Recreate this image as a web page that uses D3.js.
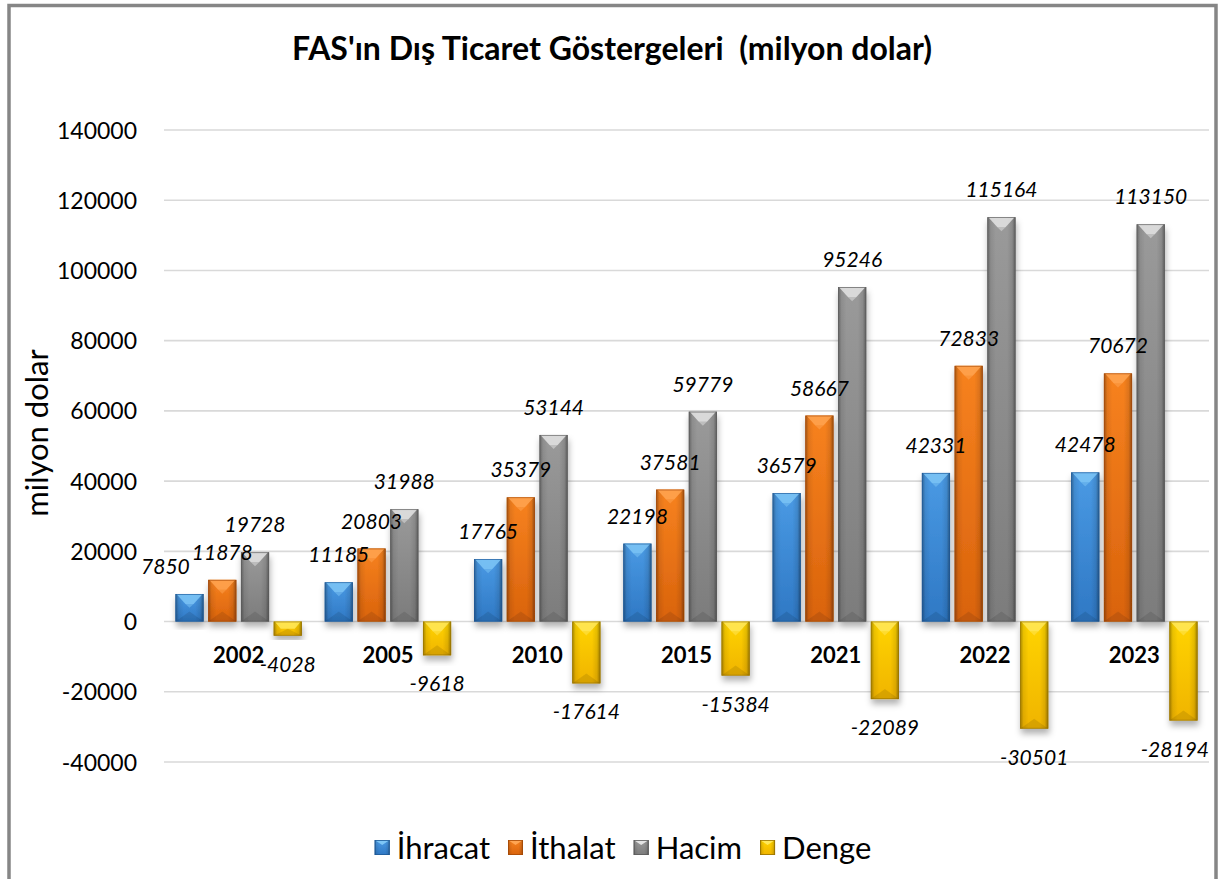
<!DOCTYPE html>
<html><head><meta charset="utf-8">
<script src="https://cdn.jsdelivr.net/npm/d3@7"></script>
<style>body{margin:0;background:#fff} svg{display:block}</style>
</head><body>
<svg id="c" width="1219" height="879"></svg>
<script>
const categories = ["2002","2005","2010","2015","2021","2022","2023"];
const seriesNames = ["İhracat","İthalat","Hacim","Denge"];
const ihracat = [7850,11185,17765,22198,36579,42331,42478];
const ithalat = [11878,20803,35379,37581,58667,72833,70672];
const hacim = [19728,31988,53144,59779,95246,115164,113150];
const denge = [-4028,-9618,-17614,-15384,-22089,-30501,-28194];
const yTicks = [-40000,-20000,0,20000,40000,60000,80000,100000,120000,140000];
const titleText = "FAS'ın Dış Ticaret Göstergeleri  (milyon dolar)";
const yTitleText = "milyon dolar";

const series = [ihracat, ithalat, hacim, denge];
const palette = [
  {top:"#7ec6f6", base1:"#4a9ae4", base2:"#2f78c4", edge:"#1e5a98"},
  {top:"#ffa552", base1:"#f7821f", base2:"#d9630c", edge:"#a84a06"},
  {top:"#e4e4e4", base1:"#9a9a9a", base2:"#7c7c7c", edge:"#5c5c5c"},
  {top:"#ffe85a", base1:"#ffd400", base2:"#f0b400", edge:"#9a7400"}
];
const FONT = "Lato, 'Open Sans', sans-serif";

const svg = d3.select("#c");
const plot = {left:164, right:1209, top:130, bottom:762};

const y = d3.scaleLinear().domain([-40000,140000]).range([plot.bottom, plot.top]);
const x0 = d3.scaleBand().domain(categories).range([plot.left, plot.right]).paddingInner(0.1226).paddingOuter(0.0613);
const x1 = d3.scaleBand().domain(seriesNames).range([0, x0.bandwidth()]).paddingInner(0.14).paddingOuter(0.07);

const defs = svg.append("defs");
const f = defs.append("filter").attr("id","sh").attr("x","-30%").attr("y","-30%").attr("width","160%").attr("height","160%");
f.append("feDropShadow").attr("dx",1).attr("dy",5).attr("stdDeviation",3).attr("flood-color","#000").attr("flood-opacity",0.3);

palette.forEach((p,i)=>{
  const g = defs.append("linearGradient").attr("id","v"+i).attr("x1",0).attr("y1",0).attr("x2",0).attr("y2",1);
  g.append("stop").attr("offset","0%").attr("stop-color",p.base1);
  g.append("stop").attr("offset","100%").attr("stop-color",p.base2);
});
const hg = defs.append("linearGradient").attr("id","hedge").attr("x1",0).attr("y1",0).attr("x2",1).attr("y2",0);
[[0,0.35],[0.12,0.08],[0.3,0],[0.7,0],[0.88,0.1],[1,0.4]].forEach(([o,a])=>hg.append("stop").attr("offset",o).attr("stop-color","#000").attr("stop-opacity",a));

// frame
svg.append("rect").attr("x",9).attr("y",5.5).attr("width",1207).attr("height",920)
  .attr("fill","#fff").attr("stroke","#868686").attr("stroke-width",3.5);

// gridlines
svg.append("g").selectAll("line").data(yTicks).join("line")
  .attr("x1",plot.left).attr("x2",plot.right)
  .attr("y1",d=>y(d)).attr("y2",d=>y(d))
  .attr("stroke","#d9d9d9").attr("stroke-width",1.6);

// y axis labels
const yAxis = d3.axisLeft(y).tickValues(yTicks).tickSize(0).tickPadding(0).tickFormat(d=>String(d));
const ya = svg.append("g").attr("transform",`translate(${plot.left-27},0)`).call(yAxis);
ya.select(".domain").remove();
ya.selectAll("text").attr("font-family",FONT).attr("font-size",23).attr("fill","#000").attr("dy","0.35em");

function bevelBar(g, xx, ww, v, i){
  const y0 = y(0), yv = y(v);
  const top = Math.min(y0,yv), h = Math.abs(y0-yv);
  const bg = g.append("g").attr("filter","url(#sh)");
  bg.append("rect").attr("x",xx).attr("y",top).attr("width",ww).attr("height",h).attr("fill",`url(#v${i})`);
  bg.append("rect").attr("x",xx).attr("y",top).attr("width",ww).attr("height",h).attr("fill","url(#hedge)");
  const d = Math.min(10, h/2, ww/2);
  bg.append("polygon").attr("points",`${xx+1},${top} ${xx+ww-1},${top} ${xx+ww-d},${top+d} ${xx+d},${top+d}`)
    .attr("fill",palette[i].top).attr("opacity",0.85);
  bg.append("polygon").attr("points",`${xx+d},${top+d} ${xx+ww-d},${top+d} ${xx+ww/2},${top+d+Math.min(4,h/2-d>0?h/2-d:0)}`)
    .attr("fill",palette[i].top).attr("opacity",0.5);
  bg.append("polygon").attr("points",`${xx},${top+h} ${xx+ww},${top+h} ${xx+ww/2},${top+h-d}`)
    .attr("fill","#000").attr("opacity",0.1);
  bg.append("rect").attr("x",xx+0.4).attr("y",top+0.4).attr("width",ww-0.8).attr("height",Math.max(0,h-0.8))
    .attr("fill","none").attr("stroke",palette[i].edge).attr("stroke-width",0.8).attr("opacity",0.8);
}

// bars
const barsG = svg.append("g");
categories.forEach((c,ci)=>{
  series.forEach((s,si)=>{
    bevelBar(barsG, x0(c)+x1(seriesNames[si]), x1.bandwidth(), s[ci], si);
  });
});

// category labels
svg.append("g").selectAll("text").data(categories).join("text")
  .attr("x",d=>x0(d)+x0.bandwidth()/2).attr("y",y(0)+41)
  .attr("text-anchor","middle").attr("font-family",FONT).attr("font-weight",700)
  .attr("font-size",22).attr("fill","#000").text(d=>d);

// value labels
const labG = svg.append("g");
categories.forEach((c,ci)=>{
  const placed = [];
  for(let si=3; si>=0; si--){
    const v = series[si][ci];
    const cx = x0(c)+x1(seriesNames[si])+x1.bandwidth()/2;
    const by = v>=0 ? y(v)-20 : y(v)+36;
    const t = labG.append("text").attr("x",cx).attr("y",by).attr("text-anchor","middle")
      .attr("font-family",FONT).attr("font-style","italic").attr("font-size",21).attr("fill","#000").text(String(v));
    const w = t.node().getComputedTextLength();
    let box = {l:cx-w/2, r:cx+w/2, t:by-16, b:by+3};
    if(box.r > plot.right){ const s = box.r - plot.right; box.l -= s; box.r -= s; }
    for(const p of placed){
      if(box.l < p.r+2 && box.r > p.l-2 && box.t < p.b && box.b > p.t){
        const shift = box.r - (p.l-2);
        box.l -= shift; box.r -= shift;
      }
    }
    t.attr("x",(box.l+box.r)/2);
    placed.push(box);
  }
});

// title
svg.append("text").attr("x",612).attr("y",60).attr("text-anchor","middle")
  .attr("font-family",FONT).attr("font-weight",700).attr("font-size",32).attr("fill","#000")
  .style("white-space","pre").attr("xml:space","preserve").text(titleText);

// y title
svg.append("text").attr("transform",`translate(48,${433}) rotate(-90)`).attr("text-anchor","middle")
  .attr("font-family",FONT).attr("font-size",31).attr("fill","#000").text(yTitleText);

// legend
const lg = svg.append("g");
let lx = 0;
seriesNames.forEach((n,i)=>{
  const g = lg.append("g");
  const t = g.append("text").attr("x",lx+22).attr("y",859).attr("font-family",FONT).attr("font-size",31).attr("fill","#000").text(n);
  const sq = 15;
  const xx = lx, yy = 840;
  g.append("rect").attr("x",xx).attr("y",yy).attr("width",sq).attr("height",sq).attr("fill",`url(#v${i})`);
  g.append("rect").attr("x",xx).attr("y",yy).attr("width",sq).attr("height",sq).attr("fill","url(#hedge)");
  g.append("polygon").attr("points",`${xx},${yy} ${xx+sq},${yy} ${xx+sq/2},${yy+5}`).attr("fill",palette[i].top);
  g.append("rect").attr("x",xx+0.4).attr("y",yy+0.4).attr("width",sq-0.8).attr("height",sq-0.8).attr("fill","none").attr("stroke",palette[i].edge).attr("stroke-width",0.8);
  lx += 22 + t.node().getComputedTextLength() + 18;
});
const totalW = lx - 18;
lg.attr("transform",`translate(${623 - totalW/2},0)`);
</script>
</body></html>
